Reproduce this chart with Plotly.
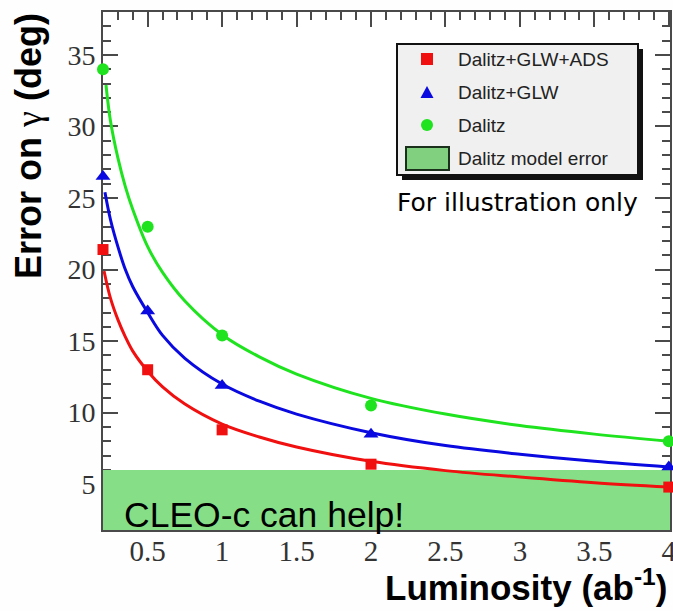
import plotly.graph_objects as go

# ---- measured points: error on gamma (deg) vs integrated luminosity (ab^-1)
lumi = [0.2, 0.5, 1.0, 2.0, 4.0]
err_dalitz = [34.0, 23.0, 15.4, 10.5, 8.0]
err_dalitz_glw = [26.5, 17.1, 11.9, 8.5, 6.2]
err_dalitz_glw_ads = [21.4, 13.0, 8.8, 6.4, 4.8]

# ---- trend curves through each set
dalitz_fit_x = [0.22, 0.25, 0.3, 0.35, 0.4, 0.5, 0.6, 0.75, 1.0, 1.25, 1.5, 2.0, 2.5, 3.0, 3.5, 4.0]
dalitz_fit_y = [32.9, 30.4, 27.8, 25.8, 24.2, 21.6, 19.8, 17.8, 15.45, 13.9, 12.7, 11.0, 9.9, 9.1, 8.5, 8.0]
glw_fit_x = [0.213, 0.25, 0.3, 0.35, 0.4, 0.5, 0.6, 0.75, 1.0, 1.25, 1.5, 2.0, 2.5, 3.0, 3.5, 4.0]
glw_fit_y = [25.4, 23.5, 21.6, 20.0, 18.8, 17.0, 15.4, 13.8, 12.0, 10.8, 9.9, 8.6, 7.7, 7.1, 6.6, 6.2]
ads_fit_x = [0.207, 0.25, 0.3, 0.35, 0.4, 0.5, 0.6, 0.75, 1.0, 1.25, 1.5, 2.0, 2.5, 3.0, 3.5, 4.0]
ads_fit_y = [19.9, 18.0, 16.5, 15.3, 14.3, 12.9, 11.8, 10.6, 9.2, 8.3, 7.6, 6.6, 5.95, 5.5, 5.1, 4.8]

# Dalitz model error level (deg)
model_error = 6.0

x_range = [0.2, 4.008]
y_range = [1.8, 38.0]

W, H = 673, 611
M_L, M_R, M_T, M_B = 103, 3, 12, 81
PW, PH = W - M_L - M_R, H - M_T - M_B

RED = "#f01010"
BLUE = "#0a0ae0"
GREEN = "#1fe31f"
BAND = "#86df86"
AXIS = "#4a4a4a"


def px(xp):
    return (xp - M_L) / PW


def py(yp):
    return (H - M_B - yp) / PH


fig = go.Figure()

# model-error band
fig.add_trace(go.Scatter(
    x=x_range, y=[model_error, model_error], mode="lines",
    line=dict(width=0, color=BAND), fill="tozeroy", fillcolor=BAND,
    hoverinfo="skip", showlegend=False))

# trend curves
for fx, fy, col in [(dalitz_fit_x, dalitz_fit_y, GREEN),
                    (glw_fit_x, glw_fit_y, BLUE),
                    (ads_fit_x, ads_fit_y, RED)]:
    fig.add_trace(go.Scatter(
        x=fx, y=fy, mode="lines",
        line=dict(color=col, width=3, shape="spline", smoothing=1.0),
        showlegend=False))

# data points
fig.add_trace(go.Scatter(x=lumi, y=err_dalitz, mode="markers", name="Dalitz",
                         marker=dict(symbol="circle", size=12, color=GREEN),
                         cliponaxis=False, showlegend=False))
fig.add_trace(go.Scatter(x=lumi, y=err_dalitz_glw, mode="markers", name="Dalitz+GLW",
                         marker=dict(symbol="triangle-up", size=13, color=BLUE),
                         cliponaxis=False, showlegend=False))
fig.add_trace(go.Scatter(x=lumi, y=err_dalitz_glw_ads, mode="markers", name="Dalitz+GLW+ADS",
                         marker=dict(symbol="square", size=11, color=RED),
                         cliponaxis=False, showlegend=False))

tick_font = dict(family="Liberation Serif", size=28, color="#333333")

fig.update_xaxes(
    range=x_range, tickvals=[0.5, 1, 1.5, 2, 2.5, 3, 3.5, 4],
    ticktext=["0.5", "1", "1.5", "2", "2.5", "3", "3.5", "4"],
    ticks="inside", ticklen=15, tickwidth=2, tickcolor=AXIS,
    minor=dict(dtick=0.1, tick0=0, ticks="inside", ticklen=8, tickwidth=2, tickcolor=AXIS),
    showline=True, linecolor=AXIS, linewidth=2, mirror="ticks",
    showgrid=False, zeroline=False, layer="below traces",
    ticklabelstandoff=-6, ticklabeloverflow="allow", automargin=False,
    tickfont=dict(family="Liberation Serif", size=29, color="#333333"),
)
fig.update_yaxes(
    range=y_range, tickvals=[5, 10, 15, 20, 25, 30, 35],
    ticks="inside", ticklen=15, tickwidth=2, tickcolor=AXIS,
    minor=dict(dtick=1, tick0=0, ticks="inside", ticklen=8, tickwidth=2, tickcolor=AXIS),
    showline=True, linecolor=AXIS, linewidth=2, mirror="ticks",
    showgrid=False, zeroline=False, layer="below traces", automargin=False,
    tickfont=tick_font,
)

shapes = []
annotations = []

# legend box with drop shadow
shapes.append(dict(type="rect", xref="paper", yref="paper",
                   x0=px(402), x1=px(643), y0=py(180), y1=py(49),
                   fillcolor="#111111", line=dict(width=0), layer="above"))
shapes.append(dict(type="rect", xref="paper", yref="paper",
                   x0=px(397), x1=px(638), y0=py(175), y1=py(44),
                   fillcolor="#f0f0f0", line=dict(color="#111111", width=2), layer="above"))
# legend keys
shapes.append(dict(type="rect", xref="paper", yref="paper",
                   x0=px(421), x1=px(433), y0=py(65), y1=py(53),
                   fillcolor=RED, line=dict(width=0), layer="above"))
shapes.append(dict(type="path", xref="paper", yref="paper",
                   path=f"M {px(420.5)} {py(98)} L {px(433.5)} {py(98)} L {px(427)} {py(86)} Z",
                   fillcolor=BLUE, line=dict(width=0), layer="above"))
shapes.append(dict(type="circle", xref="paper", yref="paper",
                   x0=px(421), x1=px(433), y0=py(131), y1=py(119),
                   fillcolor=GREEN, line=dict(width=0), layer="above"))
shapes.append(dict(type="rect", xref="paper", yref="paper",
                   x0=px(406), x1=px(449), y0=py(170), y1=py(147),
                   fillcolor="#80d080", line=dict(color="#1a301a", width=2), layer="above"))

legend_font = dict(family="Liberation Sans", size=19, color="#222222")
for label, yp in [("Dalitz+GLW+ADS", 59), ("Dalitz+GLW", 92),
                  ("Dalitz", 125), ("Dalitz model error", 158)]:
    annotations.append(dict(text=label, xref="paper", yref="paper",
                            x=px(456), y=py(yp), xanchor="left", yanchor="middle",
                            showarrow=False, font=legend_font))

annotations.append(dict(text="For illustration only", xref="paper", yref="paper",
                        x=px(517), y=py(202), xanchor="center", yanchor="middle",
                        showarrow=False,
                        font=dict(family="DejaVu Sans", size=25, color="#000000")))

annotations.append(dict(text="CLEO-c can help!", xref="paper", yref="paper",
                        x=px(122), y=py(515), xanchor="left", yanchor="middle",
                        showarrow=False,
                        font=dict(family="Liberation Sans", size=35.5, color="#000000")))

# axis titles
annotations.append(dict(
    text="Error on <span style='font-family:Liberation Serif;font-weight:normal'>γ</span> (deg)",
    xref="paper", yref="paper", x=px(28), y=py(146), xanchor="center", yanchor="middle",
    textangle=-90, showarrow=False,
    font=dict(family="Liberation Sans", size=36, color="#000000", weight="bold")))
annotations.append(dict(
    text="Luminosity (ab<sup>-1</sup>)",
    xref="paper", yref="paper", x=px(669), y=py(585), xanchor="right", yanchor="middle",
    showarrow=False,
    font=dict(family="Liberation Sans", size=35, color="#000000", weight="bold")))

fig.update_layout(
    width=W, height=H,
    margin=dict(l=M_L, r=M_R, t=M_T, b=M_B, autoexpand=False),
    paper_bgcolor="#fefefe", plot_bgcolor="#ffffff",
    showlegend=False,
    shapes=shapes, annotations=annotations,
)

fig.write_html("out.html")
